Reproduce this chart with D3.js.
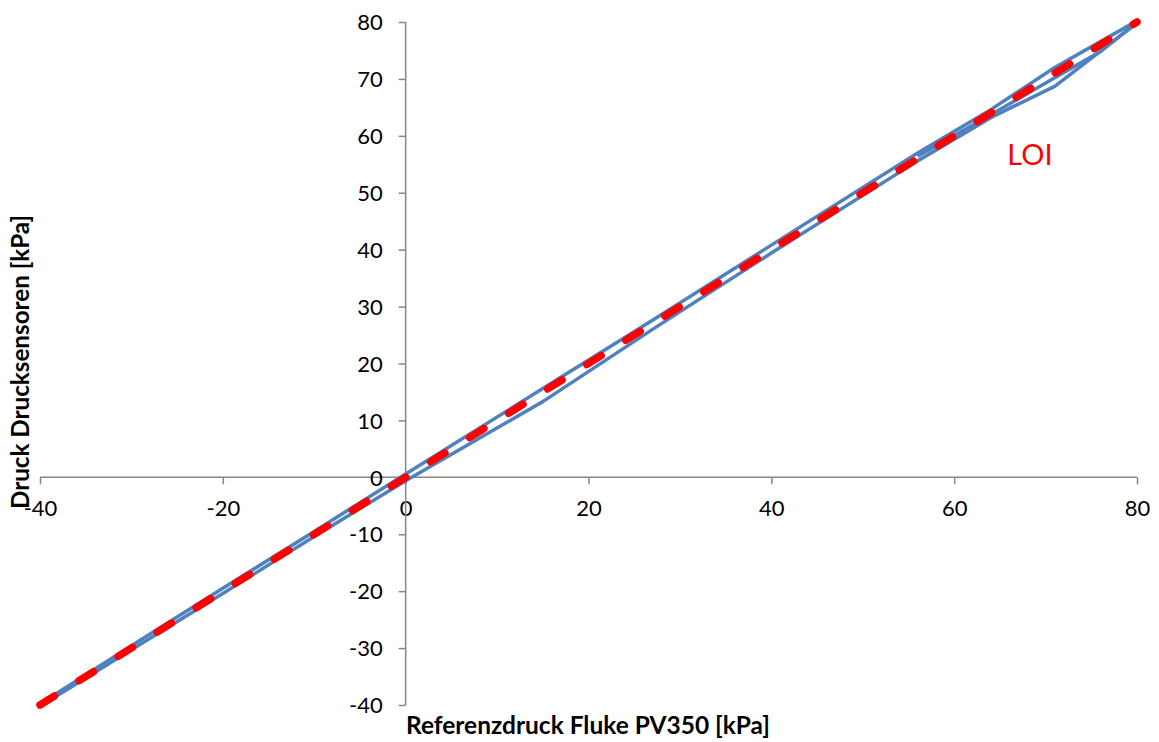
<!DOCTYPE html>
<html><head><meta charset="utf-8">
<script src="https://cdn.jsdelivr.net/npm/d3@7"></script>
<style>body{margin:0;background:#fff;} text{font-family:Lato,"Open Sans",sans-serif;}</style>
</head><body>
<svg id="c" width="1159" height="742"></svg>
<script>
const xTicks = [-40,-20,0,20,40,60,80];
const yTicks = [-40,-30,-20,-10,0,10,20,30,40,50,60,70,80];
// rising pressure series (lower line)
const seriesUpX = [-40,-30,-20,-10,0,15,27,40,56,64,71,80];
const seriesUpY = [-40.2,-30.3,-20.4,-10.4,-0.6,13.3,26.0,39.4,55.6,63.2,68.7,79.8];
// falling pressure series (upper line)
const seriesDownX = [-40,-30,-20,-10,0,15,27,40,56,64,71,80];
const seriesDownY = [-39.8,-29.6,-19.5,-9.5,0.6,15.6,27.6,40.8,57.0,64.6,72.0,80.2];
// third run (upper range)
const seriesMidX = [56,64,71,76,80];
const seriesMidY = [56.4,63.7,70.2,74.8,80.0];
// line of ideality
const loiX = [-40,80];
const loiY = [-40,80];

const svg = d3.select("#c");
const x = d3.scaleLinear().domain([-40,80]).range([40,1137]);
const y = d3.scaleLinear().domain([-40,80]).range([705,22]);

const axisColor = "#868686";
const fmt = d => String(d);
const gx = svg.append("g").attr("transform",`translate(0,${y(0)})`)
  .call(d3.axisBottom(x).tickValues(xTicks).tickSize(7).tickPadding(16).tickFormat(fmt));
const gy = svg.append("g").attr("transform",`translate(${x(0)},0)`)
  .call(d3.axisLeft(y).tickValues(yTicks).tickSize(7).tickPadding(16).tickFormat(fmt));
[gx,gy].forEach(g=>{
  g.select(".domain").attr("stroke",axisColor).attr("stroke-width",1.5);
  g.selectAll(".tick line").attr("stroke",axisColor).attr("stroke-width",1.5);
  g.selectAll(".tick text").attr("fill","#000").style("font-size","22px")
   .style("font-family",'Lato,"Open Sans",sans-serif');
});
gx.select(".domain").attr("d",`M${x(-40)},0H${x(80)}`);
gy.select(".domain").attr("d",`M0,${y(80)}V${y(-40)}`);
gy.selectAll(".tick text").attr("dy","0.35em");

const line = d3.line().x(d=>x(d[0])).y(d=>y(d[1]));
const blue = "#4F81BD";
[[seriesUpX,seriesUpY],[seriesDownX,seriesDownY],[seriesMidX,seriesMidY]].forEach(([xs,ys])=>{
  svg.append("path").datum(xs.map((v,i)=>[v,ys[i]]))
    .attr("d",line).attr("fill","none").attr("stroke",blue).attr("stroke-width",3.5)
    .attr("stroke-linejoin","round");
});
svg.append("path").datum(loiX.map((v,i)=>[v,loiY[i]]))
  .attr("d",line).attr("fill","none").attr("stroke","#FF0000").attr("stroke-width",7.5)
  .attr("stroke-linecap","round").attr("stroke-dasharray","17 29");

svg.append("text").attr("x",1030).attr("y",165).attr("text-anchor","middle")
  .attr("fill","#FF0000").style("font-size","29px").text("LOI");

svg.append("text").attr("x",588).attr("y",734).attr("text-anchor","middle")
  .attr("textLength",364).attr("lengthAdjust","spacingAndGlyphs")
  .style("font-size","24px").style("font-weight","bold").text("Referenzdruck Fluke PV350 [kPa]");
svg.append("text").attr("transform","translate(29,362) rotate(-90)").attr("text-anchor","middle")
  .attr("textLength",294).attr("lengthAdjust","spacingAndGlyphs")
  .style("font-size","24px").style("font-weight","bold").text("Druck Drucksensoren [kPa]");
</script>
</body></html>
